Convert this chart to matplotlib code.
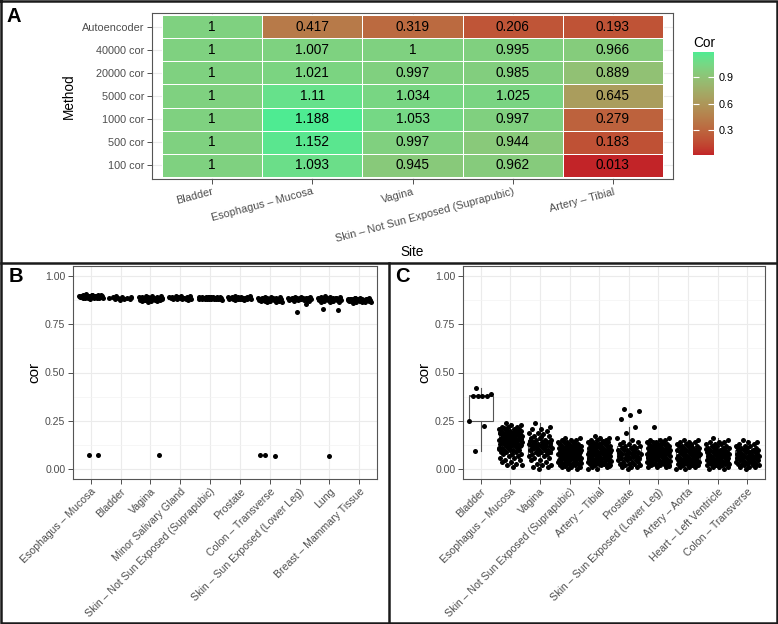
import numpy as np
import matplotlib
matplotlib.use("Agg")
import matplotlib.pyplot as plt
from matplotlib.colors import ListedColormap, Normalize, to_rgb
from matplotlib.lines import Line2D

plt.rcParams['font.family'] = ['Liberation Sans', 'DejaVu Sans']

# ---------------- panel A: heatmap ----------------
methods = ["100 cor", "500 cor", "1000 cor", "5000 cor", "20000 cor", "40000 cor", "Autoencoder"]
sites_a = ["Bladder", "Esophagus – Mucosa", "Vagina",
           "Skin – Not Sun Exposed (Suprapubic)", "Artery – Tibial"]
cor_100 = [1, 1.093, 0.945, 0.962, 0.013]
cor_500 = [1, 1.152, 0.997, 0.944, 0.183]
cor_1000 = [1, 1.188, 1.053, 0.997, 0.279]
cor_5000 = [1, 1.11, 1.034, 1.025, 0.645]
cor_20000 = [1, 1.021, 0.997, 0.985, 0.889]
cor_40000 = [1, 1.007, 1, 0.995, 0.966]
cor_autoenc = [1, 0.417, 0.319, 0.206, 0.193]
legend_ticks = [0.3, 0.6, 0.9]

# ---------------- panel B ----------------
sites_b = ["Esophagus – Mucosa", "Bladder", "Vagina", "Minor Salivary Gland",
           "Skin – Not Sun Exposed (Suprapubic)", "Prostate", "Colon – Transverse",
           "Skin – Sun Exposed (Lower Leg)", "Lung", "Breast – Mammary Tissue"]
b_esophagus = [0.903, 0.902, 0.900, 0.899, 0.898, 0.897, 0.897, 0.896, 0.896, 0.895, 0.895, 0.894,
               0.894, 0.893, 0.893, 0.892, 0.892, 0.891, 0.891, 0.890, 0.890, 0.889, 0.889, 0.888,
               0.888, 0.887, 0.887, 0.886, 0.885, 0.884, 0.883, 0.882, 0.893, 0.896, 0.890, 0.888,
               0.899, 0.886, 0.075, 0.072]
b_bladder = [0.894, 0.891, 0.889, 0.888, 0.887, 0.886, 0.884, 0.882, 0.880, 0.878, 0.876]
b_vagina = [0.897, 0.895, 0.893, 0.891, 0.890, 0.889, 0.888, 0.887, 0.886, 0.885, 0.884, 0.883,
            0.882, 0.881, 0.880, 0.879, 0.878, 0.877, 0.876, 0.875, 0.874, 0.873, 0.872, 0.871,
            0.870, 0.868, 0.866, 0.884, 0.879, 0.874, 0.073]
b_salivary = [0.897, 0.895, 0.893, 0.891, 0.890, 0.889, 0.888, 0.887, 0.886, 0.885, 0.884, 0.883,
              0.882, 0.881, 0.880, 0.879, 0.878, 0.876]
b_skin_ns = [0.892, 0.891, 0.890, 0.890, 0.889, 0.889, 0.888, 0.888, 0.887, 0.887, 0.886, 0.886,
             0.885, 0.885, 0.884, 0.884, 0.883, 0.883, 0.882, 0.882, 0.881, 0.881, 0.880, 0.880,
             0.879, 0.878, 0.877, 0.876, 0.886, 0.883, 0.880, 0.888]
b_prostate = [0.896, 0.894, 0.892, 0.891, 0.890, 0.889, 0.888, 0.887, 0.886, 0.886, 0.885, 0.884,
              0.884, 0.883, 0.882, 0.881, 0.880, 0.879, 0.878, 0.877, 0.876, 0.874, 0.887, 0.882]
b_colon = [0.891, 0.889, 0.888, 0.887, 0.886, 0.885, 0.884, 0.884, 0.883, 0.882, 0.881, 0.880,
           0.880, 0.879, 0.878, 0.877, 0.876, 0.875, 0.874, 0.873, 0.872, 0.871, 0.870, 0.869,
           0.868, 0.866, 0.864, 0.862, 0.882, 0.877, 0.872, 0.867, 0.072, 0.071, 0.072]
b_skin_s = [0.891, 0.889, 0.888, 0.887, 0.886, 0.886, 0.885, 0.884, 0.884, 0.883, 0.882, 0.881,
            0.881, 0.880, 0.879, 0.878, 0.877, 0.876, 0.875, 0.874, 0.872, 0.870, 0.868, 0.883,
            0.879, 0.852, 0.812]
b_lung = [0.893, 0.890, 0.889, 0.888, 0.887, 0.886, 0.885, 0.884, 0.883, 0.882, 0.881, 0.880,
          0.879, 0.878, 0.877, 0.876, 0.875, 0.874, 0.873, 0.872, 0.870, 0.868, 0.866, 0.864,
          0.862, 0.885, 0.879, 0.873, 0.867, 0.830, 0.823, 0.070]
b_breast = [0.886, 0.884, 0.883, 0.882, 0.882, 0.881, 0.880, 0.880, 0.879, 0.878, 0.878, 0.877,
            0.876, 0.876, 0.875, 0.874, 0.874, 0.873, 0.872, 0.872, 0.871, 0.870, 0.869, 0.868,
            0.867, 0.866, 0.865, 0.864, 0.862, 0.860, 0.879, 0.875, 0.871, 0.867, 0.883, 0.870]

# ---------------- panel C ----------------
sites_c = ["Bladder", "Esophagus – Mucosa", "Vagina", "Skin – Not Sun Exposed (Suprapubic)",
           "Artery – Tibial", "Prostate", "Skin – Sun Exposed (Lower Leg)", "Artery – Aorta",
           "Heart – Left Ventricle", "Colon – Transverse"]
c_bladder = [0.42, 0.39, 0.38, 0.38, 0.38, 0.38, 0.25, 0.225, 0.095]
c_esophagus = [0.24, 0.23, 0.23, 0.22, 0.22, 0.22, 0.21, 0.21, 0.21, 0.21, 0.20, 0.20, 0.20, 0.20,
               0.20, 0.19, 0.19, 0.19, 0.19, 0.19, 0.18, 0.18, 0.18, 0.18, 0.18, 0.18, 0.17, 0.17,
               0.17, 0.17, 0.17, 0.17, 0.16, 0.16, 0.16, 0.16, 0.16, 0.16, 0.15, 0.15, 0.15, 0.15,
               0.15, 0.15, 0.14, 0.14, 0.14, 0.14, 0.14, 0.13, 0.13, 0.13, 0.13, 0.13, 0.12, 0.12,
               0.12, 0.12, 0.11, 0.11, 0.11, 0.11, 0.10, 0.10, 0.10, 0.10, 0.09, 0.09, 0.09, 0.08,
               0.08, 0.08, 0.07, 0.07, 0.06, 0.06, 0.05, 0.05, 0.04, 0.04, 0.03, 0.02, 0.02, 0.01,
               0.215, 0.205, 0.195, 0.185, 0.175, 0.165, 0.155, 0.145, 0.135, 0.125, 0.115, 0.105,
               0.195, 0.185, 0.175, 0.165, 0.155, 0.145, 0.135, 0.125, 0.175, 0.165, 0.155, 0.145]
c_vagina = [0.24, 0.22, 0.21, 0.21, 0.20, 0.19, 0.19, 0.18, 0.17, 0.17, 0.16, 0.16, 0.15, 0.15,
            0.15, 0.14, 0.14, 0.14, 0.13, 0.13, 0.13, 0.13, 0.12, 0.12, 0.12, 0.12, 0.11, 0.11,
            0.11, 0.11, 0.10, 0.10, 0.10, 0.10, 0.09, 0.09, 0.09, 0.08, 0.08, 0.08, 0.07, 0.07,
            0.06, 0.06, 0.05, 0.05, 0.04, 0.03, 0.02, 0.02, 0.01, 0.01, 0.00, 0.145, 0.125,
            0.115, 0.135, 0.165, 0.105, 0.095]
c_skin_ns = [0.16, 0.16, 0.15, 0.15, 0.15, 0.14, 0.14, 0.14, 0.14, 0.13, 0.13, 0.13, 0.13, 0.13,
             0.12, 0.12, 0.12, 0.12, 0.12, 0.11, 0.11, 0.11, 0.11, 0.11, 0.10, 0.10, 0.10, 0.10,
             0.10, 0.10, 0.09, 0.09, 0.09, 0.09, 0.09, 0.09, 0.08, 0.08, 0.08, 0.08, 0.08, 0.08,
             0.07, 0.07, 0.07, 0.07, 0.07, 0.07, 0.06, 0.06, 0.06, 0.06, 0.06, 0.05, 0.05, 0.05,
             0.05, 0.05, 0.04, 0.04, 0.04, 0.04, 0.03, 0.03, 0.03, 0.03, 0.02, 0.02, 0.02, 0.01,
             0.01, 0.01, 0.00, 0.00, 0.135, 0.115, 0.095, 0.085, 0.075, 0.065, 0.055, 0.045,
             0.035, 0.025, 0.105, 0.085, 0.065, 0.045, 0.125, 0.015]
c_artery_t = [0.17, 0.16, 0.16, 0.15, 0.15, 0.15, 0.14, 0.14, 0.14, 0.14, 0.13, 0.13, 0.13, 0.13,
              0.12, 0.12, 0.12, 0.12, 0.12, 0.11, 0.11, 0.11, 0.11, 0.11, 0.10, 0.10, 0.10, 0.10,
              0.10, 0.10, 0.09, 0.09, 0.09, 0.09, 0.09, 0.09, 0.09, 0.08, 0.08, 0.08, 0.08, 0.08,
              0.08, 0.07, 0.07, 0.07, 0.07, 0.07, 0.07, 0.06, 0.06, 0.06, 0.06, 0.06, 0.06, 0.05,
              0.05, 0.05, 0.05, 0.05, 0.04, 0.04, 0.04, 0.04, 0.03, 0.03, 0.03, 0.03, 0.02, 0.02,
              0.02, 0.01, 0.01, 0.00, 0.00, 0.145, 0.125, 0.105, 0.085, 0.075, 0.065, 0.055,
              0.045, 0.035, 0.025, 0.095, 0.075, 0.055, 0.035, 0.115, 0.015]
c_prostate = [0.31, 0.30, 0.28, 0.26, 0.22, 0.19, 0.16, 0.15, 0.14, 0.14, 0.13, 0.13, 0.12, 0.12,
              0.12, 0.11, 0.11, 0.11, 0.10, 0.10, 0.10, 0.10, 0.09, 0.09, 0.09, 0.09, 0.08, 0.08,
              0.08, 0.08, 0.07, 0.07, 0.07, 0.07, 0.06, 0.06, 0.06, 0.06, 0.05, 0.05, 0.05, 0.04,
              0.04, 0.04, 0.03, 0.03, 0.03, 0.02, 0.02, 0.01, 0.01, 0.01, 0.00, 0.085, 0.065]
c_skin_s = [0.22, 0.16, 0.15, 0.15, 0.15, 0.14, 0.14, 0.14, 0.14, 0.13, 0.13, 0.13, 0.13, 0.13,
            0.12, 0.12, 0.12, 0.12, 0.12, 0.11, 0.11, 0.11, 0.11, 0.11, 0.11, 0.10, 0.10, 0.10,
            0.10, 0.10, 0.10, 0.09, 0.09, 0.09, 0.09, 0.09, 0.09, 0.08, 0.08, 0.08, 0.08, 0.08,
            0.08, 0.08, 0.07, 0.07, 0.07, 0.07, 0.07, 0.07, 0.06, 0.06, 0.06, 0.06, 0.06, 0.06,
            0.05, 0.05, 0.05, 0.05, 0.05, 0.04, 0.04, 0.04, 0.04, 0.03, 0.03, 0.03, 0.03, 0.02,
            0.02, 0.02, 0.01, 0.01, 0.01, 0.135, 0.115, 0.095, 0.085, 0.075, 0.065, 0.055, 0.045,
            0.035, 0.025, 0.105, 0.085, 0.065, 0.045, 0.125, 0.015]
c_artery_a = [0.15, 0.15, 0.14, 0.14, 0.14, 0.13, 0.13, 0.13, 0.12, 0.12, 0.12, 0.12, 0.11, 0.11,
              0.11, 0.11, 0.10, 0.10, 0.10, 0.10, 0.10, 0.09, 0.09, 0.09, 0.09, 0.09, 0.08, 0.08,
              0.08, 0.08, 0.08, 0.07, 0.07, 0.07, 0.07, 0.07, 0.06, 0.06, 0.06, 0.06, 0.06, 0.05,
              0.05, 0.05, 0.05, 0.05, 0.04, 0.04, 0.04, 0.04, 0.03, 0.03, 0.03, 0.03, 0.02, 0.02,
              0.02, 0.01, 0.01, 0.01, 0.00, 0.00, 0.125, 0.105, 0.085, 0.065, 0.045, 0.025,
              0.095, 0.075, 0.055, 0.035]
c_heart = [0.16, 0.15, 0.14, 0.14, 0.14, 0.13, 0.13, 0.13, 0.12, 0.12, 0.12, 0.11, 0.11, 0.11,
           0.11, 0.10, 0.10, 0.10, 0.10, 0.09, 0.09, 0.09, 0.09, 0.09, 0.08, 0.08, 0.08, 0.08,
           0.08, 0.07, 0.07, 0.07, 0.07, 0.07, 0.06, 0.06, 0.06, 0.06, 0.06, 0.05, 0.05, 0.05,
           0.05, 0.05, 0.04, 0.04, 0.04, 0.04, 0.03, 0.03, 0.03, 0.03, 0.02, 0.02, 0.02, 0.01,
           0.01, 0.01, 0.00, 0.00, 0.125, 0.105, 0.085, 0.065, 0.045, 0.025, 0.095, 0.075,
           0.055, 0.035]
c_colon = [0.15, 0.14, 0.14, 0.13, 0.13, 0.12, 0.12, 0.12, 0.11, 0.11, 0.11, 0.10, 0.10, 0.10,
           0.10, 0.09, 0.09, 0.09, 0.09, 0.08, 0.08, 0.08, 0.08, 0.07, 0.07, 0.07, 0.07, 0.07,
           0.06, 0.06, 0.06, 0.06, 0.06, 0.05, 0.05, 0.05, 0.05, 0.05, 0.04, 0.04, 0.04, 0.04,
           0.03, 0.03, 0.03, 0.03, 0.02, 0.02, 0.02, 0.01, 0.01, 0.01, 0.00, 0.115, 0.095,
           0.075, 0.055, 0.035, 0.085, 0.065]

GRID = '#EBEBEB'
TICKC = '#333333'
LABC = '#4D4D4D'

W, H = 778, 624
fig = plt.figure(figsize=(W / 100, H / 100), dpi=100)


def px_axes(x0, y0, x1, y1):
    # pixel box (top-left origin) -> figure axes
    return fig.add_axes([x0 / W, 1 - y1 / H, (x1 - x0) / W, (y1 - y0) / H])


# gradient interpolated in CIELAB, like ggplot's scale_fill_gradient
def _to_lab(c):
    rgb = np.array(to_rgb(c))
    lin = np.where(rgb <= 0.04045, rgb / 12.92, ((rgb + 0.055) / 1.055) ** 2.4)
    m = np.array([[0.4124, 0.3576, 0.1805], [0.2126, 0.7152, 0.0722], [0.0193, 0.1192, 0.9505]])
    xyz = m @ lin / np.array([0.95047, 1.0, 1.08883])
    f = np.where(xyz > 0.008856, np.cbrt(xyz), 7.787 * xyz + 16 / 116)
    return np.array([116 * f[1] - 16, 500 * (f[0] - f[1]), 200 * (f[1] - f[2])])


def _from_lab(lab):
    fy = (lab[0] + 16) / 116
    fx = fy + lab[1] / 500
    fz = fy - lab[2] / 200
    f = np.array([fx, fy, fz])
    xyz = np.where(f ** 3 > 0.008856, f ** 3, (f - 16 / 116) / 7.787) * np.array([0.95047, 1.0, 1.08883])
    m = np.array([[3.2406, -1.5372, -0.4986], [-0.9689, 1.8758, 0.0415], [0.0557, -0.2040, 1.0570]])
    lin = m @ xyz
    rgb = np.where(lin <= 0.0031308, 12.92 * lin, 1.055 * np.clip(lin, 0, None) ** (1 / 2.4) - 0.055)
    return np.clip(rgb, 0, 1)


lo, hi = _to_lab('#C22428'), _to_lab('#4EEB92')
cmap = ListedColormap([_from_lab(lo + t * (hi - lo)) for t in np.linspace(0, 1, 256)])

# ---- A
ax = px_axes(152, 13, 673, 179)
heat = np.array([cor_100, cor_500, cor_1000, cor_5000, cor_20000, cor_40000, cor_autoenc])
norm = Normalize(vmin=heat.min(), vmax=heat.max())
xe = np.arange(len(sites_a) + 1) - 0.5
ye = np.arange(len(methods) + 1) - 0.5
mesh = ax.pcolormesh(xe, ye, heat, cmap=cmap, norm=norm, edgecolors='white', linewidth=0.6, zorder=2)
for i in range(heat.shape[0]):
    for j in range(heat.shape[1]):
        ax.text(j, i, f"{heat[i, j]:g}", ha='center', va='center', fontsize=9.8, zorder=3)
ax.set_xlim(-0.6, len(sites_a) - 0.4)
ax.set_ylim(-0.6, len(methods) - 0.4)
ax.set_xticks(range(len(sites_a)))
ax.set_xticklabels(sites_a, rotation=15, ha='right', va='top', rotation_mode='anchor')
ax.set_yticks(range(len(methods)))
ax.set_yticklabels(methods)
ax.grid(True, color=GRID, lw=0.8, zorder=0)
ax.set_axisbelow(True)
ax.tick_params(length=3.5, width=0.6, color=TICKC, labelsize=7.8, labelcolor=LABC, pad=2)
for s in ax.spines.values():
    s.set_color('#555555')
    s.set_linewidth(0.8)
ax.set_ylabel('Method', fontsize=9.8)
ax.yaxis.set_label_coords(-0.147, 0.5)
ax.set_xlabel('Site', fontsize=9.8)
ax.xaxis.set_label_coords(0.5, -0.40)

cax = px_axes(693, 52, 714, 155)
cb = fig.colorbar(mesh, cax=cax, ticks=legend_ticks)
cb.outline.set_visible(False)
cax.tick_params(direction='in', color='white', length=4, width=0.8, left=True, right=True,
                labelsize=7.8, pad=3)
fig.text(693 / W, 1 - 43 / H, 'Cor', fontsize=9.8, ha='left', va='center')


# ---- B and C
def jitter_panel(ax, sites, groups):
    pos = np.arange(len(sites))
    ax.boxplot(groups, positions=pos, widths=0.8, showfliers=False, showcaps=False,
               patch_artist=True,
               boxprops=dict(facecolor='white', edgecolor='#555555', linewidth=0.8),
               medianprops=dict(color='#555555', linewidth=1.3),
               whiskerprops=dict(color='#555555', linewidth=0.8), zorder=2)
    for i, vals in enumerate(groups):
        n = len(vals)
        offs = ((np.arange(n) * 0.618034 + 0.31) % 1 - 0.5) * 0.8
        ax.scatter(pos[i] + offs, vals, s=13, c='black', linewidths=0, zorder=3)
    ax.set_xlim(-0.6, len(sites) - 0.4)
    ax.set_ylim(-0.05, 1.05)
    ax.set_xticks(pos)
    ax.set_xticklabels(sites, rotation=45, ha='right', va='top', rotation_mode='anchor')
    ax.set_yticks([0, 0.25, 0.5, 0.75, 1.0])
    ax.set_yticklabels(['0.00', '0.25', '0.50', '0.75', '1.00'])
    ax.set_yticks([0.125, 0.375, 0.625, 0.875], minor=True)
    ax.grid(True, which='major', color=GRID, lw=0.8)
    ax.grid(True, which='minor', axis='y', color='#F3F3F3', lw=0.5)
    ax.set_axisbelow(True)
    ax.tick_params(which='major', length=3.5, width=0.6, color=TICKC, labelsize=7.6,
                   labelcolor=LABC, pad=2)
    ax.tick_params(which='minor', length=0)
    for s in ax.spines.values():
        s.set_color('#555555')
        s.set_linewidth(0.8)
    ax.set_ylabel('cor', fontsize=11)
    ax.yaxis.set_label_coords(-0.105, 0.5)


axb = px_axes(73, 266, 377, 479)
jitter_panel(axb, sites_b, [b_esophagus, b_bladder, b_vagina, b_salivary, b_skin_ns, b_prostate,
                            b_colon, b_skin_s, b_lung, b_breast])
axc = px_axes(463, 266, 765, 479)
jitter_panel(axc, sites_c, [c_bladder, c_esophagus, c_vagina, c_skin_ns, c_artery_t, c_prostate,
                            c_skin_s, c_artery_a, c_heart, c_colon])

# panel letters
for lab, x, y in [('A', 14, 16), ('B', 16, 276), ('C', 402, 276)]:
    fig.text(x / W, 1 - y / H, lab, fontsize=14.5, fontweight='bold', ha='center', va='center')

# panel frames
for xs, ys in [([1, 777, 777, 1, 1], [1, 1, 623, 623, 1]),
               ([1, 777], [263, 263]),
               ([389, 389], [263, 623])]:
    fig.add_artist(Line2D([x / W for x in xs], [1 - y / H for y in ys], color='#1A1A1A', lw=1.8))

fig.savefig('out.png', dpi=100)
